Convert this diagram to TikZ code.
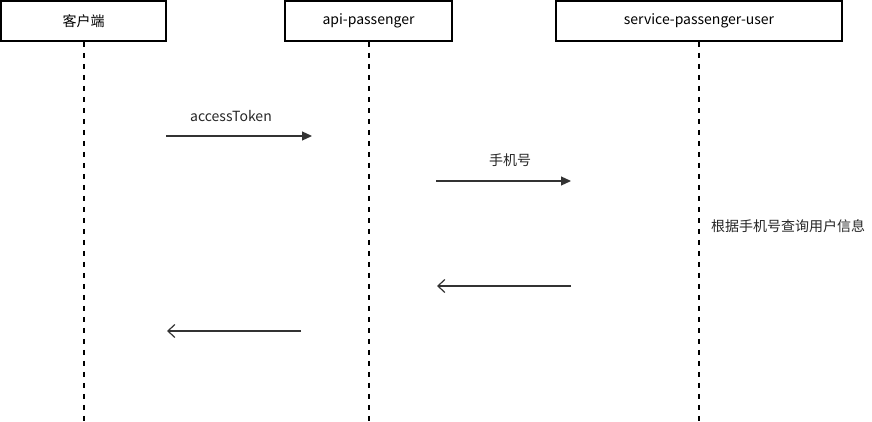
\documentclass[tikz,border=0pt]{standalone}
\usepackage{fontspec}
\setmainfont{Noto Sans CJK SC}
\usetikzlibrary{arrows.meta}
\begin{document}
\begin{tikzpicture}[x=1pt,y=-1pt,
  actor/.style={draw=black,line width=1.6pt,fill=white,inner sep=0pt,font=\fontsize{14}{16}\selectfont},
  life/.style={draw=black,line width=1.8pt,dash pattern=on 5pt off 6pt},
  msg/.style={draw=black!80,line width=1.2pt,-{Triangle[length=10pt,width=9pt]}},
  ret/.style={draw=black!80,line width=1.2pt,-{Straight Barb[length=7pt,width=13pt,line width=1.2pt]}},
  lbl/.style={font=\fontsize{14}{16}\selectfont,text=black!85,inner sep=0pt}]
\useasboundingbox (0,0) rectangle (872,422);
\node[actor,minimum width=165pt,minimum height=40pt] (c) at (83.5,21) {客户端};
\node[actor,minimum width=167pt,minimum height=40pt] (a) at (368.5,21) {api-passenger};
\node[actor,minimum width=286pt,minimum height=40pt] (s) at (699,21) {service-passenger-user};
\coordinate (cb) at (84,422);
\coordinate (ab) at (369,422);
\coordinate (sb) at (699,422);
\draw[life] (c.south) ++(0.5,0) -- (cb);
\draw[life] (a.south) ++(0.5,0) -- (ab);
\draw[life] (s.south) -- (sb);
\coordinate (m1s) at (166,136); \coordinate (m1e) at (312,136);
\draw[msg] (m1s) -- (m1e);
\node[lbl] (l1) at (231,116) {accessToken};
\coordinate (m2s) at (436,181); \coordinate (m2e) at (571,181);
\draw[msg] (m2s) -- (m2e);
\node[lbl] (l2) at (510,160) {手机号};
\node[lbl,anchor=west] (l3) at (711,226) {根据手机号查询用户信息};
\coordinate (r1s) at (571,286); \coordinate (r1e) at (437,286);
\draw[ret] (r1s) -- (r1e);
\coordinate (r2s) at (301,331); \coordinate (r2e) at (167,331);
\draw[ret] (r2s) -- (r2e);
\end{tikzpicture}
\end{document}
